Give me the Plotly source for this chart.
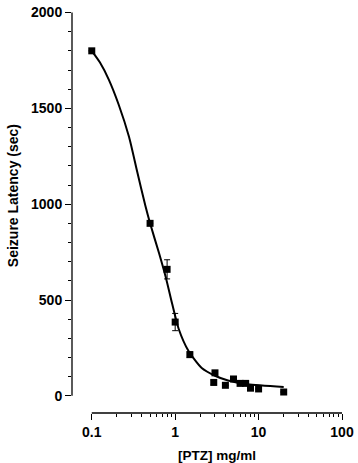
import math
import plotly.graph_objects as go

# Data
ptz_dose = [0.1, 0.5, 0.8, 1.0, 1.5, 2.9, 3.0, 4.0, 5.0, 6.0, 7.0, 8.0, 10.0, 20.0]
latency = [1800, 900, 660, 385, 215, 70, 120, 55, 88, 65, 65, 40, 36, 20]
latency_err = [0, 0, 50, 45, 15, 12, 8, 0, 0, 0, 0, 0, 0, 0]

# Fitted curve
fit_dose = [0.1, 0.125, 0.16, 0.21, 0.28, 0.35, 0.44, 0.5, 0.64, 0.77, 0.92, 1.1,
            1.44, 2.08, 3.0, 4.3, 7.4, 20.0]
fit_latency = [1800, 1740, 1650, 1520, 1350, 1170, 990, 900, 745, 620, 480, 350,
               235, 145, 105, 80, 60, 46]

x_ticks = [0.1, 1, 10, 100]
x_tick_text = ["0.1", "1", "10", "100"]
y_ticks = [0, 500, 1000, 1500, 2000]
y_tick_text = ["0", "500", "1000", "1500", "2000"]

FONT = "Arial, Liberation Sans, sans-serif"
X_RANGE = [-1.237, 2.0]
Y_RANGE = [-89.5, 2002.6]

x_minor = [m * 10 ** e for e in (-1, 0, 1) for m in range(2, 10)]
y_minor = [v for v in range(100, 2000, 100) if v % 500 != 0]

fig = go.Figure()
fig.add_trace(go.Scatter(
    x=fit_dose, y=fit_latency, mode="lines",
    line=dict(color="black", width=2, shape="spline", smoothing=0.6),
    hoverinfo="skip", showlegend=False,
))
fig.add_trace(go.Scatter(
    x=ptz_dose, y=latency, mode="markers",
    marker=dict(symbol="square", size=7, color="black"),
    error_y=dict(type="data", array=latency_err, color="black", thickness=1, width=3),
    showlegend=False,
))

def xfrac(v):
    return (math.log10(v) - X_RANGE[0]) / (X_RANGE[1] - X_RANGE[0])

fig.update_layout(
    width=358, height=463,
    margin=dict(l=72, r=13, t=4, b=50),
    paper_bgcolor="white", plot_bgcolor="white",
    font=dict(family=FONT, color="black"),
    xaxis=dict(
        type="log", range=X_RANGE, showgrid=False, zeroline=False, showline=False,
        tickmode="array", tickvals=x_ticks, ticktext=x_tick_text,
        ticks="outside", ticklen=6, tickwidth=1.2, tickcolor="black",
        ticklabeloverflow="allow",
        tickfont=dict(family=FONT, size=14, color="black", weight="bold"),
        minor=dict(tickmode="array", tickvals=x_minor, ticks="outside",
                   ticklen=3, tickwidth=1, tickcolor="black", showgrid=False),
    ),
    yaxis=dict(
        range=Y_RANGE, showgrid=False, zeroline=False, showline=False,
        tickmode="array", tickvals=y_ticks, ticktext=y_tick_text,
        ticks="outside", ticklen=6, tickwidth=1.2, tickcolor="black",
        ticklabeloverflow="allow",
        tickfont=dict(family=FONT, size=14, color="black", weight="bold"),
        minor=dict(tickmode="array", tickvals=y_minor, ticks="outside",
                   ticklen=3, tickwidth=1, tickcolor="black", showgrid=False),
    ),
    shapes=[
        dict(type="line", xref="paper", yref="y", x0=0, x1=0, y0=0, y1=2000,
             line=dict(color="black", width=1.3)),
        dict(type="line", xref="paper", yref="paper", x0=xfrac(0.1), x1=xfrac(100),
             y0=0, y1=0, line=dict(color="black", width=1.3)),
    ],
    annotations=[
        dict(text="<b>[PTZ] mg/ml</b>", xref="paper", yref="paper",
             x=(xfrac(0.1) + 1) / 2, y=0, yanchor="middle", xanchor="center",
             yshift=-42, showarrow=False, font=dict(family=FONT, size=13.5, color="black")),
        dict(text="<b>Seizure Latency (sec)</b>", xref="paper", yref="y",
             x=0, y=1000, xshift=-59.5, yshift=8.5, textangle=-90, showarrow=False,
             xanchor="center", yanchor="middle",
             font=dict(family=FONT, size=14, color="black")),
    ],
)

fig.write_html(
    "out.html",
    config={"displayModeBar": False},
    post_script="document.body.style.margin='0';document.body.style.padding='0';"
                "document.body.style.overflow='hidden';",
)
